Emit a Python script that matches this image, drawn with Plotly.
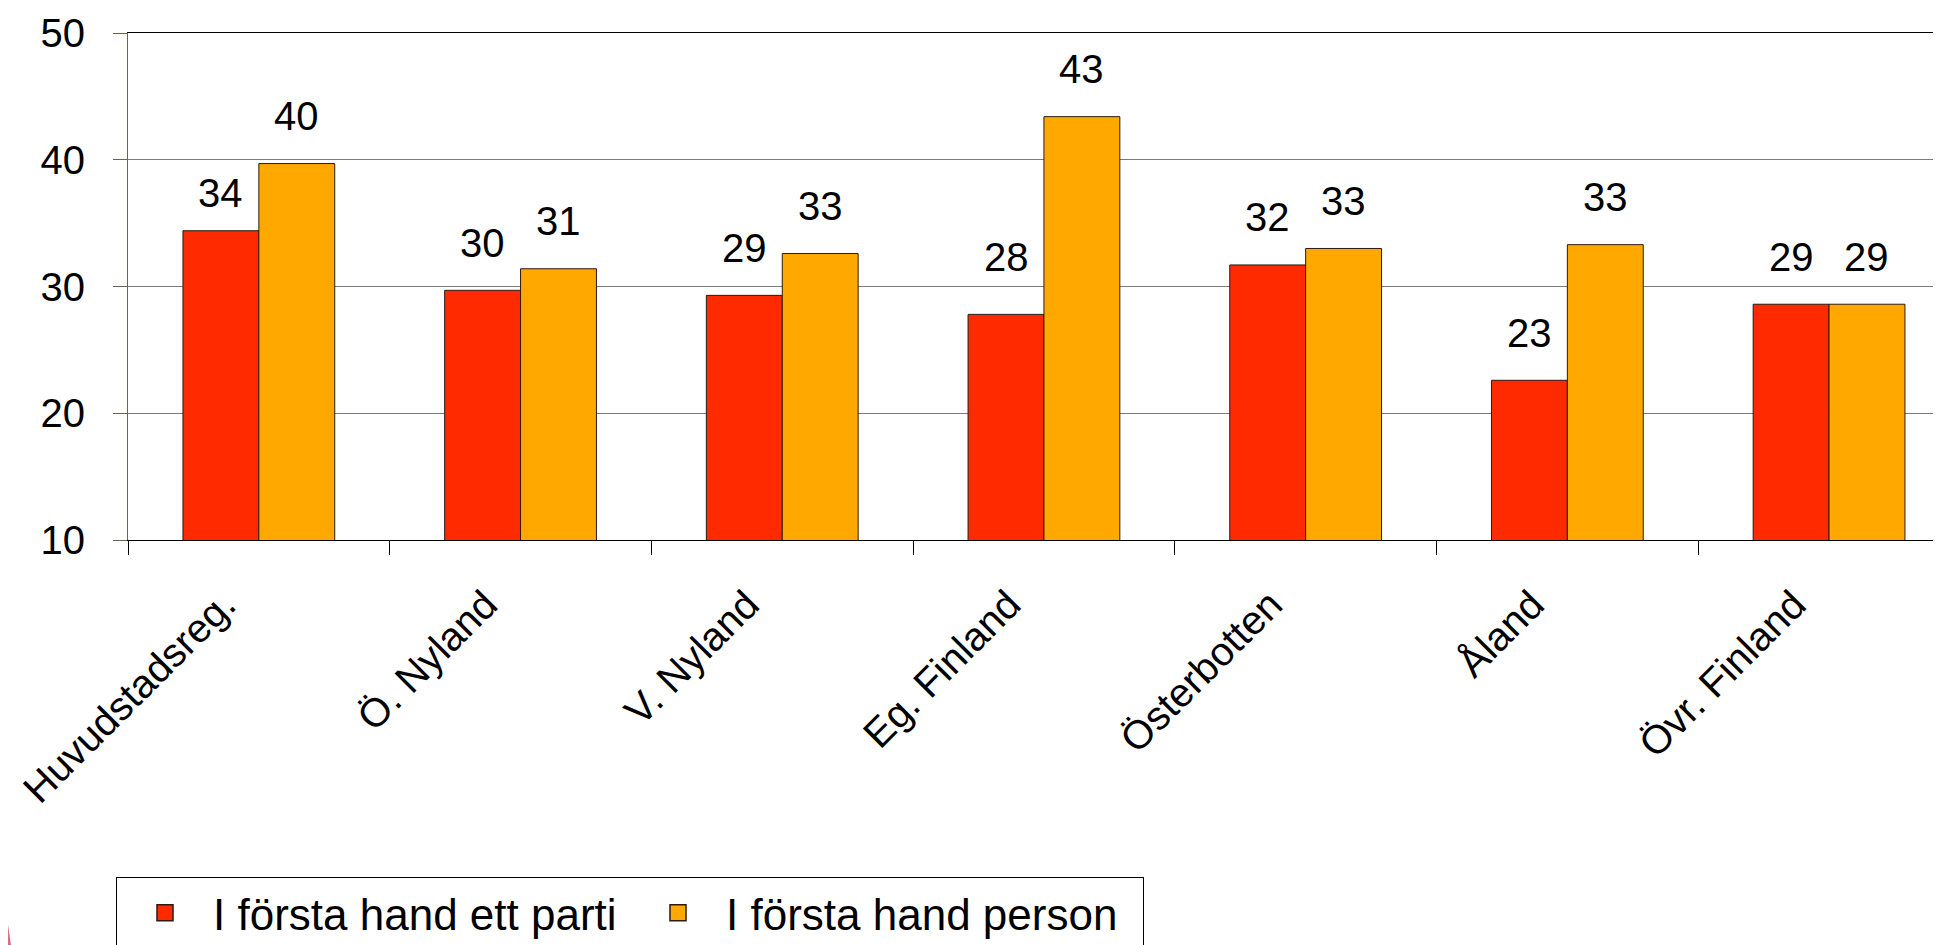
import plotly.graph_objects as go

# ---- data ----
categories = ["Huvudstadsreg.", "Ö. Nyland", "V. Nyland", "Eg. Finland",
              "Österbotten", "Åland", "Övr. Finland"]
parti = [34.4, 29.7, 29.3, 27.8, 31.7, 22.6, 28.6]
person = [39.7, 31.4, 32.6, 43.4, 33.0, 33.3, 28.6]
series_names = ["I första hand ett parti", "I första hand person"]
y_ticks = [10, 20, 30, 40, 50]

# ---- style ----
W, H = 1941, 945
PAGE = 8                            # default body margin of the html page
M_L, M_T = 128 - PAGE, 33 - PAGE
M_R, M_B = PAGE, 945 - 540 + PAGE
FONT = "Liberation Sans, Arial, sans-serif"
RED = "#FF2A00"
ORANGE = "#FFA800"
EDGE = "#2a1a10"
BARGAP = 0.42
CAT_PX = 261.7                      # pixel width of one category slot
plot_w = W - M_L - M_R
plot_h = H - M_T - M_B
x_max = -0.5 + plot_w / CAT_PX      # right part of the last slot is cropped
bar_px = CAT_PX * (1 - BARGAP) / 2
label_gap = 47.5
label_adjust = {(0, 0): -9.5, (3, 0): 9.5}   # manual label nudges in source


def px_to_paper(px, py):
    """screen pixel -> paper coords (for the decorative corner mark)"""
    return (px - 128) / plot_w, (540 - py) / plot_h


fig = go.Figure()
for s, (name, vals, col) in enumerate(zip(series_names, [parti, person], [RED, ORANGE])):
    fig.add_trace(go.Bar(
        x=categories, y=vals, name=name, showlegend=False,
        marker=dict(color=col, line=dict(color=EDGE, width=1)),
    ))
    # legend entry (square swatch like the source legend)
    fig.add_trace(go.Scatter(
        x=[None], y=[None], mode="markers", name=name,
        marker=dict(symbol="square", size=20, color=col,
                    line=dict(color=EDGE, width=1.5)),
    ))
    for i, v in enumerate(vals):
        fig.add_annotation(
            x=categories[i], y=v, text=str(int(v + 0.5)), showarrow=False,
            xshift=(-1 if s == 0 else 1) * bar_px / 2,
            yshift=label_gap + label_adjust.get((i, s), 0),
            yanchor="middle", xanchor="center",
            font=dict(family=FONT, size=40, color="black"),
        )

# small reddish arc in the bottom-left corner (edge of a slide logo)
pts = [px_to_paper(x, y) for x, y in [(0, 905), (7, 918), (11, 945), (5, 945), (3, 925), (0, 915)]]
path = "M " + " L ".join(f"{a:.5f},{b:.5f}" for a, b in pts) + " Z"
fig.add_shape(type="path", path=path, xref="paper", yref="paper",
              fillcolor="#c8304a", opacity=0.7, line=dict(width=0), layer="above")

fig.update_layout(
    width=W, height=H,
    margin=dict(l=M_L, r=M_R, t=M_T, b=M_B, pad=0, autoexpand=False),
    paper_bgcolor="white", plot_bgcolor="white",
    barmode="group", bargap=BARGAP, bargroupgap=0,
    font=dict(family=FONT, size=40, color="black"),
    showlegend=True,
    legend=dict(
        orientation="h", x=(116 - 128) / plot_w, y=-(876.7 - 540) / plot_h,
        xanchor="left", yanchor="top",
        bordercolor="black", borderwidth=1, bgcolor="white",
        font=dict(family=FONT, size=44, color="black"),
        itemwidth=86, itemsizing="trace",
        entrywidth=412, entrywidthmode="pixels", traceorder="normal",
    ),
    xaxis=dict(
        type="category", range=[-0.5, x_max], automargin=False,
        tickson="boundaries", ticks="outside", ticklen=14, tickcolor="black",
        showline=True, linecolor="black", linewidth=1, mirror=True,
        showgrid=False, tickangle=-45,
        ticklabelstandoff=24, ticklabelshift=-35,
        tickfont=dict(family=FONT, size=40, color="black"),
    ),
    yaxis=dict(
        range=[10, 50], tickvals=y_ticks, ticks="outside", ticklen=14,
        automargin=False,
        tickcolor="#6b6450", showline=True, linecolor="#6b6450", linewidth=1,
        showgrid=True, gridcolor="#7a7a7a", gridwidth=1, zeroline=False,
        ticklabelstandoff=20,
        tickfont=dict(family=FONT, size=40, color="black"),
    ),
)

fig.write_html("out.html")
